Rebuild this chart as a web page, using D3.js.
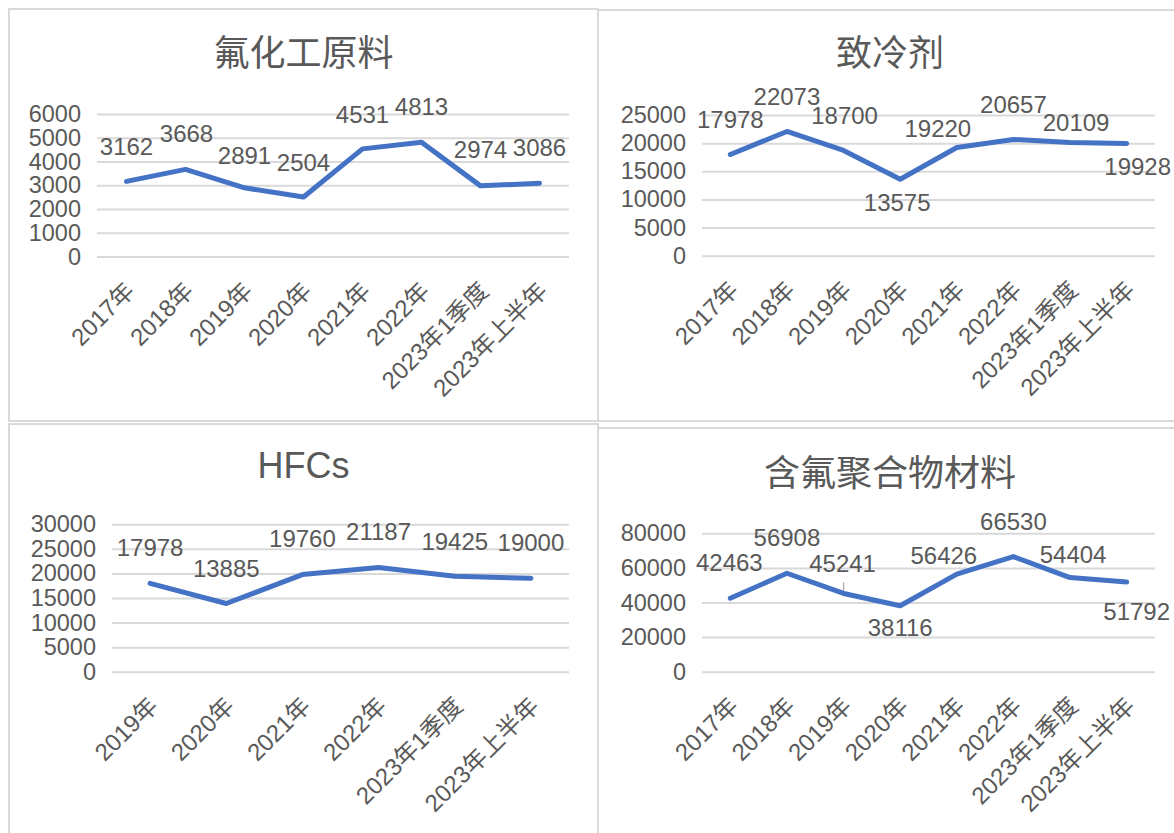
<!DOCTYPE html>
<html>
<head>
<meta charset="utf-8">
<script src="https://cdn.jsdelivr.net/npm/d3@7"></script>
<style>
  body { margin: 0; background: #fff; }
  svg { display: block; font-family: "Liberation Sans", "Noto Sans CJK SC", sans-serif; }
</style>
</head>
<body>
<div id="chart"></div>
<script>
// categories
const yearsAll = ["2017年", "2018年", "2019年", "2020年", "2021年", "2022年", "2023年1季度", "2023年上半年"];
const yearsHfc = ["2019年", "2020年", "2021年", "2022年", "2023年1季度", "2023年上半年"];

// series values
const rawMaterial = [3162, 3668, 2891, 2504, 4531, 4813, 2974, 3086];
const refrigerant = [17978, 22073, 18700, 13575, 19220, 20657, 20109, 19928];
const hfcs = [17978, 13885, 19760, 21187, 19425, 19000];
const polymer = [42463, 56908, 45241, 38116, 56426, 66530, 54404, 51792];

// titles and y tick labels
const titles = ["氟化工原料", "致冷剂", "HFCs", "含氟聚合物材料"];
const ticksRaw = [0, 1000, 2000, 3000, 4000, 5000, 6000];
const ticksRef = [0, 5000, 10000, 15000, 20000, 25000];
const ticksHfc = [0, 5000, 10000, 15000, 20000, 25000, 30000];
const ticksPoly = [0, 20000, 40000, 60000, 80000];

const W = 1174, H = 833;
const textColor = "#595959";
const gridColor = "#d9d9d9";
const lineColor = "#4472c4";
const fontSize = 24;
const tickFont = 23.5;

// layout per panel (box, plot area, label nudges)
const panels = [
  {
    title: titles[0], cats: yearsAll, values: rawMaterial, ticks: ticksRaw,
    box: [9, 9, 589, 412], x: [97, 569], y: [256.5, 114], titleX: 303.5, titleY: 66,
    nudge: [[0, -35], [1, -36], [0, -32], [0, -35], [0, -35], [0, -36], [0, -37], [0, -36]]
  },
  {
    title: titles[1], cats: yearsAll, values: refrigerant, ticks: ticksRef,
    box: [598, 10, 590, 411], x: [702, 1155], y: [255.7, 115], titleX: 890, titleY: 66,
    nudge: [[0, -35], [0, -35], [1, -35], [-3, 23], [-19, -19], [0, -35], [6, -20], [11, 23]]
  },
  {
    title: titles[2], cats: yearsHfc, values: hfcs, ticks: ticksHfc,
    box: [9, 424, 589, 420], x: [112, 569], y: [671.7, 524.3], titleX: 303.5, titleY: 478,
    nudge: [[0, -36], [0, -35], [0, -36], [0, -36], [0, -35], [0, -36]]
  },
  {
    title: titles[3], cats: yearsAll, values: polymer, ticks: ticksPoly,
    box: [598, 428, 590, 420], x: [702, 1155], y: [671.7, 533.3], titleX: 890, titleY: 486,
    nudge: [[-1, -36], [0, -36], [-1, -30], [0, 22], [-13, -18.5], [0, -35], [3, -23.5], [10, 29]],
    leader: [2]
  }
];

const svg = d3
  .select("#chart")
  .append("svg")
  .attr("width", W)
  .attr("height", H);

svg.append("rect").attr("width", W).attr("height", H).attr("fill", "#fff");

panels.forEach((p) => {
  const g = svg.append("g");

  g.append("rect")
    .attr("x", p.box[0])
    .attr("y", p.box[1])
    .attr("width", p.box[2])
    .attr("height", p.box[3])
    .attr("fill", "none")
    .attr("stroke", gridColor)
    .attr("stroke-width", 2);

  g.append("text")
    .attr("x", p.titleX)
    .attr("y", p.titleY)
    .attr("text-anchor", "middle")
    .attr("fill", textColor)
    .attr("font-size", 36)
    .text(p.title);

  const x = d3.scalePoint().domain(p.cats).range(p.x).padding(0.5);
  const y = d3
    .scaleLinear()
    .domain([0, p.ticks[p.ticks.length - 1]])
    .range(p.y);

  const yAxis = d3
    .axisLeft(y)
    .tickValues(p.ticks)
    .tickFormat(d3.format("d"))
    .tickSize(-(p.x[1] - p.x[0]))
    .tickPadding(16);

  const ya = g
    .append("g")
    .attr("transform", `translate(${p.x[0]},0)`)
    .call(yAxis);
  ya.select(".domain").remove();
  ya.selectAll("line").attr("stroke", gridColor).attr("stroke-width", 2);
  ya.selectAll("text")
    .attr("fill", textColor)
    .attr("font-size", tickFont)
    .attr("font-family", "Liberation Sans, Noto Sans CJK SC, sans-serif");

  const xAxis = d3.axisBottom(x).tickSize(0);
  const xa = g
    .append("g")
    .attr("transform", `translate(0,${p.y[0]})`)
    .call(xAxis);
  xa.select(".domain").remove();
  xa.selectAll("text")
    .attr("fill", textColor)
    .attr("font-size", fontSize)
    .attr("font-family", "Liberation Sans, Noto Sans CJK SC, sans-serif")
    .attr("text-anchor", "end")
    .attr("x", 0)
    .attr("y", 0)
    .attr("dy", "0.35em")
    .attr("transform", "translate(3,30) rotate(-45)");

  const data = p.cats.map((c, i) => ({ cat: c, value: p.values[i], i: i }));

  // leader line for a moved data label
  (p.leader || []).forEach((i) => {
    g.append("line")
      .attr("x1", x(p.cats[i]))
      .attr("x2", x(p.cats[i]))
      .attr("y1", y(p.values[i]) - 11)
      .attr("y2", y(p.values[i]))
      .attr("stroke", "#a6a6a6")
      .attr("stroke-width", 1.2);
  });

  const line = d3
    .line()
    .x((d) => x(d.cat))
    .y((d) => y(d.value));

  g.append("path")
    .datum(data)
    .attr("d", line)
    .attr("fill", "none")
    .attr("stroke", lineColor)
    .attr("stroke-width", 5)
    .attr("stroke-linejoin", "round")
    .attr("stroke-linecap", "round");

  g.selectAll(".lbl")
    .data(data)
    .enter()
    .append("text")
    .attr("class", "lbl")
    .attr("x", (d) => x(d.cat) + p.nudge[d.i][0])
    .attr("y", (d) => y(d.value) + p.nudge[d.i][1])
    .attr("dy", "0.36em")
    .attr("text-anchor", "middle")
    .attr("fill", textColor)
    .attr("font-size", fontSize)
    .text((d) => d.value);
});
</script>
</body>
</html>
